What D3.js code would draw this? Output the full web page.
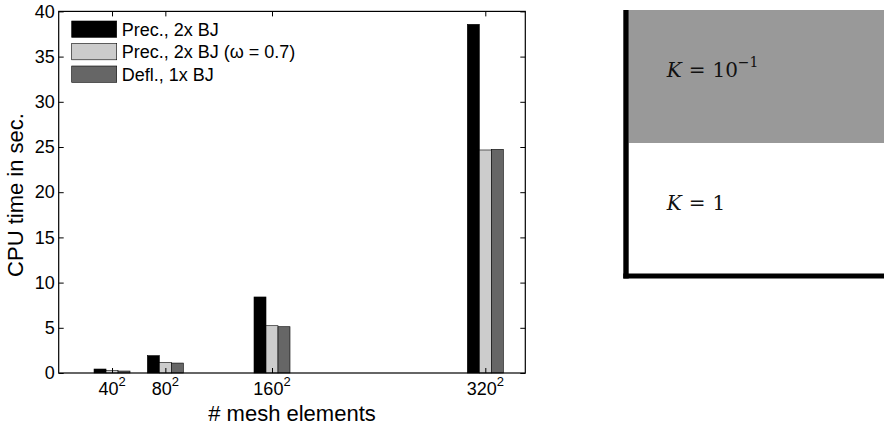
<!DOCTYPE html>
<html>
<head>
<meta charset="utf-8">
<script src="https://cdn.jsdelivr.net/npm/d3@7/dist/d3.min.js"></script>
<style>
  html, body { margin: 0; padding: 0; background: #fff; }
  svg { display: block; }
  text { font-family: "Liberation Sans", Arial, Helvetica, sans-serif; }
  .math { font-family: "DejaVu Serif", "Liberation Serif", serif; }
</style>
</head>
<body>
<svg id="fig" width="884" height="429"></svg>
<script>
// Mesh resolution N (the mesh has N^2 elements)
const meshSizes = [40, 80, 160, 320];
// CPU time in seconds for each solver variant
const precBJ = [0.44, 1.92, 8.41, 38.57];
const precBJOmega = [0.26, 1.18, 5.23, 24.67];
const deflBJ = [0.22, 1.10, 5.12, 24.74];
const seriesNames = ["Prec., 2x BJ", "Prec., 2x BJ (\u03c9 = 0.7)", "Defl., 1x BJ"];
const seriesColors = ["#000000", "#cccccc", "#666666"];
const yTicks = [0, 5, 10, 15, 20, 25, 30, 35, 40];
// Permeability zones of the domain sketch
const zoneLabels = [{exp: "10", sup: "\u22121"}, {exp: "1", sup: ""}];

const series = [precBJ, precBJOmega, deflBJ];
const svg = d3.select("#fig");

// ---- bar chart ----
const plot = {left: 58.7, right: 525.3, top: 11.4, bottom: 373};
const x = d3.scaleLinear().domain([0, 350]).range([plot.left, plot.right]);
const y = d3.scaleLinear().domain([0, 40]).range([plot.bottom, plot.top]);
const barW = 9; // in mesh-size units
const tickLen = 5;

const g = svg.append("g");

// bars
series.forEach((vals, si) => {
  g.selectAll(null).data(vals.map((v, i) => ({n: meshSizes[i], v})))
    .enter().append("rect")
    .attr("x", d => x(d.n + (si - 1.5) * barW))
    .attr("width", x(barW) - x(0))
    .attr("y", d => y(d.v))
    .attr("height", d => y(0) - y(d.v))
    .attr("fill", seriesColors[si])
    .attr("stroke", "#000")
    .attr("stroke-width", 0.6);
});

// axes box with inward ticks
const axisStyle = sel => {
  sel.select(".domain").remove();
  sel.selectAll("line").attr("stroke", "#000").attr("stroke-width", 1);
};
const yLeft = d3.axisLeft(y).tickValues(yTicks).tickSize(-tickLen).tickPadding(4);
g.append("g").attr("transform", `translate(${plot.left},0)`).call(yLeft).call(axisStyle)
  .selectAll("text").attr("font-size", 18).attr("fill", "#000");
g.append("g").attr("transform", `translate(${plot.right},0)`)
  .call(d3.axisRight(y).tickValues(yTicks).tickSize(-tickLen).tickFormat("")).call(axisStyle);
g.append("g").attr("transform", `translate(0,${plot.bottom})`)
  .call(d3.axisBottom(x).tickValues(meshSizes).tickSize(-tickLen).tickFormat("")).call(axisStyle);
g.append("g").attr("transform", `translate(0,${plot.top})`)
  .call(d3.axisTop(x).tickValues(meshSizes).tickSize(-tickLen).tickFormat("")).call(axisStyle);
g.append("rect")
  .attr("x", plot.left).attr("y", plot.top)
  .attr("width", plot.right - plot.left).attr("height", plot.bottom - plot.top)
  .attr("fill", "none").attr("stroke", "#000").attr("stroke-width", 1.2);

// x tick labels as N^2
const xl = g.selectAll(null).data(meshSizes).enter().append("text")
  .attr("x", d => x(d)).attr("y", 395)
  .attr("text-anchor", "middle").attr("font-size", 18).attr("fill", "#000");
xl.append("tspan").text(d => d);
xl.append("tspan").attr("dy", -9).attr("font-size", 13).text("2");

// axis titles
g.append("text").attr("x", 292).attr("y", 421)
  .attr("text-anchor", "middle").attr("font-size", 22).text("# mesh elements");
g.append("text").attr("transform", `translate(23,195) rotate(-90)`)
  .attr("text-anchor", "middle").attr("font-size", 22).text("CPU time in sec.");

// legend
const leg = g.append("g");
seriesNames.forEach((name, i) => {
  const yy = 21 + i * 22.5;
  leg.append("rect").attr("x", 71.7).attr("y", yy).attr("width", 45).attr("height", 16.3)
    .attr("fill", seriesColors[i]).attr("stroke", "#000").attr("stroke-width", 0.6);
  leg.append("text").attr("x", 121.7).attr("y", yy + 14.5)
    .attr("font-size", 18).attr("fill", "#000").text(name);
});

// ---- domain sketch ----
const sk = svg.append("g");
const sx = d3.scaleLinear().domain([0, 1]).range([628.7, 884]);
const sy = d3.scaleLinear().domain([0, 1]).range([276, 10]);
const interfaceY = 0.5;
sk.append("rect").attr("x", sx(0)).attr("y", sy(1)).attr("width", sx(1) - sx(0))
  .attr("height", sy(interfaceY) - sy(1)).attr("fill", "#999999");
sk.append("line").attr("x1", sx(0) - 2.7).attr("x2", sx(0) - 2.7)
  .attr("y1", sy(1)).attr("y2", sy(0) + 2.5).attr("stroke", "#000").attr("stroke-width", 5.4);
sk.append("line").attr("x1", sx(0) - 5.4).attr("x2", sx(1))
  .attr("y1", sy(0)).attr("y2", sy(0)).attr("stroke", "#000").attr("stroke-width", 5);

const kPos = [77.3, 210];
zoneLabels.forEach((lab, i) => {
  const t = sk.append("text").attr("class", "math").attr("x", 666.7).attr("y", kPos[i])
    .attr("font-size", 20).attr("fill", "#111");
  t.append("tspan").attr("font-style", "italic").text("K");
  t.append("tspan").attr("dx", 7).text("=");
  t.append("tspan").attr("dx", 7).text(lab.exp);
  if (lab.sup) t.append("tspan").attr("dy", -10).attr("font-size", 14).text(lab.sup);
});
</script>
</body>
</html>
